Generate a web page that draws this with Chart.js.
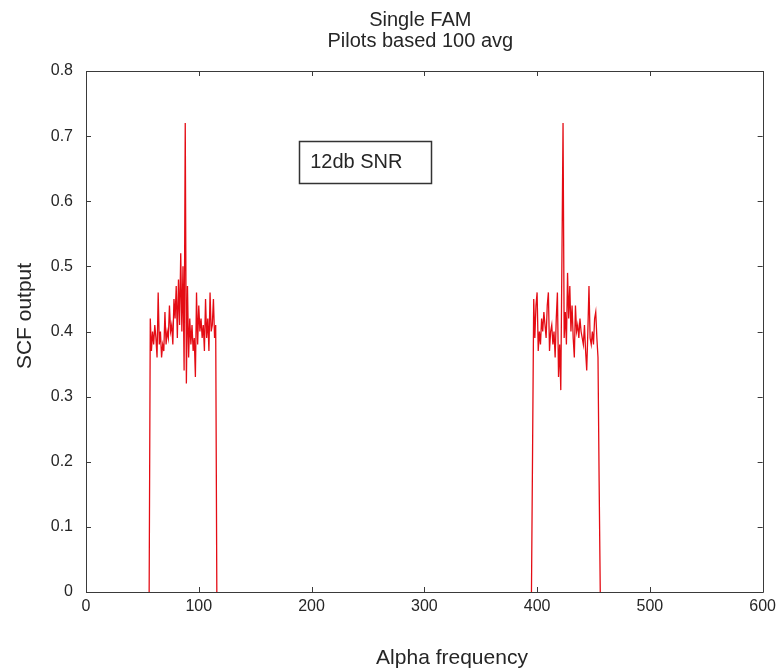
<!DOCTYPE html>
<html>
<head>
<meta charset="utf-8">
<script src="https://cdn.jsdelivr.net/npm/chart.js@4.4.1/dist/chart.umd.min.js"></script>
<style>
  html, body { margin: 0; padding: 0; background: #ffffff; }
  #wrap { width: 781px; height: 672px; }
</style>
</head>
<body>
<div id="wrap"><canvas id="scf" width="781" height="672"></canvas></div>
<script>
// Text drawn on the figure
const titleLines = ['Single FAM', 'Pilots based 100 avg'];
const xAxisLabel = 'Alpha frequency';
const yAxisLabel = 'SCF output';
const noteText = '12db SNR';

// Axis ticks
const xTicks = [0, 100, 200, 300, 400, 500, 600];
const yTicks = [0, 0.1, 0.2, 0.3, 0.4, 0.5, 0.6, 0.7, 0.8];

// Lower pilot band: first alpha bin and SCF magnitude per bin
const lowBandStart = 56;
const lowBandScf = [
  0, 0.42, 0.37, 0.40, 0.38, 0.41, 0.39, 0.36, 0.46, 0.38,
  0.40, 0.36, 0.38, 0.37, 0.43, 0.38, 0.40, 0.39, 0.44, 0.40,
  0.41, 0.38, 0.45, 0.42, 0.47, 0.39, 0.48, 0.41, 0.52, 0.40,
  0.50, 0.34, 0.72, 0.32, 0.47, 0.36, 0.42, 0.38, 0.41, 0.37,
  0.39, 0.33, 0.46, 0.38, 0.44, 0.40, 0.42, 0.39, 0.41, 0.37,
  0.45, 0.39, 0.42, 0.37, 0.46, 0.40, 0.41, 0.45, 0.39, 0.41,
  0
];

// Upper pilot band
const highBandStart = 395;
const highBandScf = [
  0, 0.22, 0.45, 0.39, 0.44, 0.46, 0.37, 0.40, 0.38, 0.42,
  0.40, 0.43, 0.41, 0.39, 0.44, 0.46, 0.37, 0.40, 0.41, 0.38,
  0.40, 0.36, 0.42, 0.46, 0.33, 0.38, 0.31, 0.51, 0.72, 0.39,
  0.43, 0.38, 0.49, 0.42, 0.47, 0.40, 0.44, 0.39, 0.36, 0.44,
  0.40, 0.41, 0.39, 0.42, 0.40, 0.39, 0.38, 0.41, 0.37, 0.34,
  0.40, 0.47, 0.39, 0.38, 0.40, 0.38, 0.42, 0.43, 0.39, 0.36,
  0.17, 0
];

// Note box corners in data units
const noteBox = { x0: 189, x1: 306, y0: 0.628, y1: 0.692 };

const FONT = '"Liberation Sans", Arial, Helvetica, sans-serif';
const TEXT = '#262626';
const AXIS = '#3a3a3a';

function bandPoints(start, values) {
  return values.map((v, i) => ({ x: start + i, y: v }));
}
const tracePoints = bandPoints(lowBandStart, lowBandScf)
  .concat([{ x: (lowBandStart + lowBandScf.length + highBandStart) / 2, y: null }])
  .concat(bandPoints(highBandStart, highBandScf));

// Box, inward tick marks, titles and the note box
const figureDecor = {
  id: 'figureDecor',
  afterDatasetsDraw(chart) {
    const { ctx, chartArea: a, scales } = chart;
    const tick = 5;
    ctx.save();
    ctx.strokeStyle = AXIS;
    ctx.lineWidth = 1;
    ctx.beginPath();
    ctx.rect(Math.round(a.left) + 0.5, Math.round(a.top) + 0.5,
             Math.round(a.right - a.left), Math.round(a.bottom - a.top));
    xTicks.forEach(v => {
      const px = Math.round(scales.x.getPixelForValue(v)) + 0.5;
      ctx.moveTo(px, a.bottom); ctx.lineTo(px, a.bottom - tick);
      ctx.moveTo(px, a.top); ctx.lineTo(px, a.top + tick);
    });
    yTicks.forEach(v => {
      const py = Math.round(scales.y.getPixelForValue(v)) + 0.5;
      ctx.moveTo(a.left, py); ctx.lineTo(a.left + tick, py);
      ctx.moveTo(a.right, py); ctx.lineTo(a.right - tick, py);
    });
    ctx.stroke();

    // note box
    const bx0 = scales.x.getPixelForValue(noteBox.x0);
    const bx1 = scales.x.getPixelForValue(noteBox.x1);
    const by0 = scales.y.getPixelForValue(noteBox.y1);
    const by1 = scales.y.getPixelForValue(noteBox.y0);
    ctx.lineWidth = 1.5;
    ctx.strokeStyle = '#333';
    ctx.strokeRect(Math.round(bx0) + 0.5, Math.round(by0) + 0.5,
                   Math.round(bx1 - bx0), Math.round(by1 - by0));
    ctx.fillStyle = TEXT;
    ctx.font = '20px ' + FONT;
    ctx.textAlign = 'left';
    ctx.textBaseline = 'middle';
    ctx.fillText(noteText, bx0 + 11, (by0 + by1) / 2);

    // title
    ctx.textAlign = 'center';
    ctx.font = '20px ' + FONT;
    const cx = (a.left + a.right) / 2 - 4;
    ctx.fillText(titleLines[0], cx, 20);
    ctx.fillText(titleLines[1], cx, 41);

    // axis labels
    ctx.font = '21px ' + FONT;
    ctx.fillText(xAxisLabel, 452, 658);
    ctx.translate(25, 316);
    ctx.rotate(-Math.PI / 2);
    ctx.fillText(yAxisLabel, 0, 0);
    ctx.restore();
  }
};

new Chart(document.getElementById('scf'), {
  type: 'line',
  data: {
    datasets: [{
      data: tracePoints,
      borderColor: 'rgb(228, 12, 20)',
      borderWidth: 1.3,
      pointRadius: 0,
      tension: 0,
      spanGaps: false,
      fill: false
    }]
  },
  options: {
    responsive: false,
    animation: false,
    devicePixelRatio: 1,
    layout: { padding: { top: 71, right: 16, bottom: 0, left: 0 } },
    plugins: {
      legend: { display: false },
      tooltip: { enabled: false },
      title: { display: false }
    },
    scales: {
      x: {
        type: 'linear',
        min: 0, max: 600,
        grid: { display: false, drawTicks: false },
        border: { display: false },
        afterBuildTicks(s) { s.ticks = xTicks.map(v => ({ value: v })); },
        afterFit(s) { s.height = 80; },
        ticks: {
          color: TEXT, padding: 5, maxRotation: 0, autoSkip: false,
          font: { family: FONT, size: 16 }
        }
      },
      y: {
        type: 'linear',
        min: 0, max: 0.8,
        grid: { display: false, drawTicks: false },
        border: { display: false },
        afterBuildTicks(s) { s.ticks = yTicks.map(v => ({ value: v })); },
        afterFit(s) { s.width = 86; },
        ticks: {
          color: TEXT, padding: 13, autoSkip: false,
          font: { family: FONT, size: 16 },
          callback: v => String(Math.round(v * 10) / 10)
        }
      }
    }
  },
  plugins: [figureDecor]
});
</script>
</body>
</html>
